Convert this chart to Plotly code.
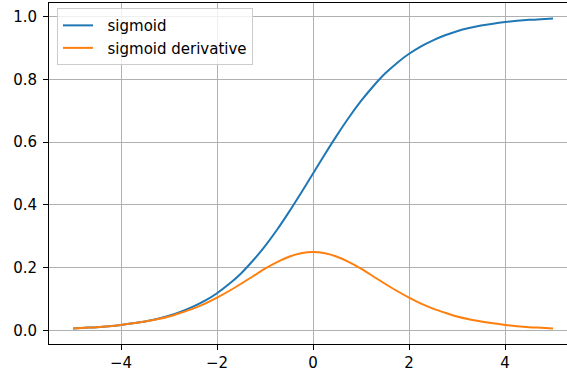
import plotly.graph_objects as go

x_vals = [-5.0, -4.75, -4.5, -4.25, -4.0, -3.75, -3.5, -3.25, -3.0, -2.75, -2.5, -2.25,
          -2.0, -1.75, -1.5, -1.25, -1.0, -0.75, -0.5, -0.25, 0.0,
          0.25, 0.5, 0.75, 1.0, 1.25, 1.5, 1.75, 2.0, 2.25, 2.5, 2.75,
          3.0, 3.25, 3.5, 3.75, 4.0, 4.25, 4.5, 4.75, 5.0]
sigmoid_vals = [0.007, 0.009, 0.011, 0.014, 0.018, 0.023, 0.029, 0.037, 0.047, 0.060, 0.076, 0.095,
                0.119, 0.148, 0.182, 0.223, 0.269, 0.321, 0.378, 0.438, 0.500,
                0.562, 0.622, 0.679, 0.731, 0.777, 0.818, 0.852, 0.881, 0.905, 0.924, 0.940,
                0.953, 0.963, 0.971, 0.977, 0.982, 0.986, 0.989, 0.991, 0.993]
deriv_vals = [0.007, 0.009, 0.011, 0.014, 0.018, 0.023, 0.029, 0.036, 0.045, 0.057, 0.070, 0.086,
              0.105, 0.126, 0.149, 0.173, 0.197, 0.218, 0.235, 0.246, 0.250,
              0.246, 0.235, 0.218, 0.197, 0.173, 0.149, 0.126, 0.105, 0.086, 0.070, 0.057,
              0.045, 0.036, 0.029, 0.023, 0.018, 0.014, 0.011, 0.009, 0.007]
x_ticks = [-4, -2, 0, 2, 4]
x_tick_labels = ["\u22124", "\u22122", "0", "2", "4"]
y_ticks = [0.0, 0.2, 0.4, 0.6, 0.8, 1.0]
y_tick_labels = ["0.0", "0.2", "0.4", "0.6", "0.8", "1.0"]

fig = go.Figure()
fig.add_trace(go.Scatter(x=x_vals, y=sigmoid_vals, mode="lines", name="  sigmoid",
                         line=dict(color="#1f77b4", width=2, shape="spline", smoothing=0.8)))
fig.add_trace(go.Scatter(x=x_vals, y=deriv_vals, mode="lines", name="  sigmoid derivative",
                         line=dict(color="#ff7f0e", width=2, shape="spline", smoothing=0.8)))

font = dict(family="DejaVu Sans", size=15, color="#000000")
fig.update_layout(
    width=567, height=374,
    margin=dict(l=49, r=0, t=3, b=30),
    paper_bgcolor="white", plot_bgcolor="white",
    font=font,
    showlegend=True,
    legend=dict(x=0.0154, y=0.985, xanchor="left", yanchor="top",
                bgcolor="rgba(255,255,255,0.8)", bordercolor="#cccccc", borderwidth=1,
                font=dict(family="DejaVu Sans", size=15, color="#000000"),
                tracegroupgap=0, itemwidth=30),
)
fig.update_xaxes(range=[-5.5, 5.29], tickvals=x_ticks, ticktext=x_tick_labels,
                 showgrid=True, gridcolor="#b0b0b0", gridwidth=1, automargin=False,
                 showline=True, linecolor="#000000", linewidth=1, mirror=True,
                 ticks="outside", ticklen=5, tickcolor="#000000", zeroline=False)
fig.update_yaxes(range=[-0.0427, 1.0427], tickvals=y_ticks, ticktext=y_tick_labels,
                 showgrid=True, gridcolor="#b0b0b0", gridwidth=1, automargin=False,
                 showline=True, linecolor="#000000", linewidth=1, mirror=False,
                 ticks="outside", ticklen=5, tickcolor="#000000", zeroline=False,
                 ticklabelstandoff=3)

fig.write_html("out.html", config={"displayModeBar": False},
               post_script="document.body.style.margin='0px';")
